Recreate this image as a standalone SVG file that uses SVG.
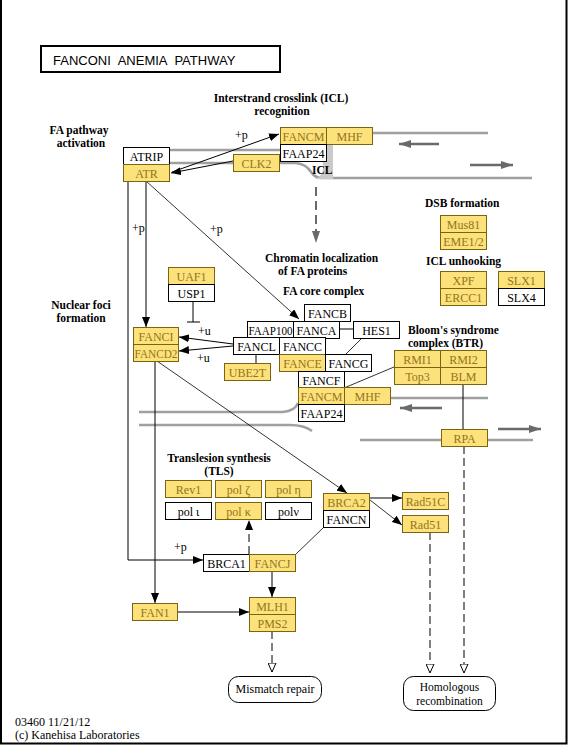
<svg xmlns="http://www.w3.org/2000/svg" width="568" height="745" viewBox="0 0 568 745">
<defs>
<style>
.w{fill:#fff;stroke:#000;stroke-width:1}
.y{fill:#fde17a;stroke:#7a6410;stroke-width:1}
.t{font-family:"Liberation Serif",serif;font-size:12px;text-anchor:middle;fill:#000}
.ty{font-family:"Liberation Serif",serif;font-size:12px;text-anchor:middle;fill:#917520}
.lb{font-family:"Liberation Serif",serif;font-size:11.5px;font-weight:bold;fill:#000}
.c{font-family:"Liberation Serif",serif;font-size:12px;fill:#000}
.ln{fill:none;stroke:#000;stroke-width:1}
.thin{fill:none;stroke:#000;stroke-width:0.8}
.dash{fill:none;stroke:#000;stroke-width:1;stroke-dasharray:8,4}
.strand{fill:none;stroke:#a0a0a0;stroke-width:2.5}
.garr{fill:none;stroke:#6a6a6a;stroke-width:2.5}
.rr{fill:#fff;stroke:#000;stroke-width:1}
</style>
<marker id="ah" viewBox="0 0 10 8" refX="10" refY="4" markerWidth="10" markerHeight="8" markerUnits="userSpaceOnUse" orient="auto"><path d="M0,0 L10,4 L0,8 Z" fill="#000"/></marker>
<marker id="gh" viewBox="0 0 12 8" refX="12" refY="4" markerWidth="12" markerHeight="8" markerUnits="userSpaceOnUse" orient="auto"><path d="M0,0 L12,4 L0,8 Z" fill="#6a6a6a"/></marker>
<marker id="oh" viewBox="0 0 10 9" refX="9.5" refY="4.5" markerWidth="10" markerHeight="9" markerUnits="userSpaceOnUse" orient="auto"><path d="M0.5,0.5 L9.5,4.5 L0.5,8.5 Z" fill="#fff" stroke="#000" stroke-width="1"/></marker>
</defs>
<rect x="0" y="0" width="568" height="745" fill="#fff"/>
<path d="M1,0 V743.5 H566.5 V0" fill="none" stroke="#000" stroke-width="2"/>

<g id="title">
<rect x="41" y="46" width="239" height="26" fill="#fff" stroke="#000" stroke-width="2"/>
<text x="53" y="65" style="font-family:'Liberation Sans',sans-serif;font-size:13px;word-spacing:4px">FANCONI ANEMIA PATHWAY</text>
</g>

<g id="dna">
<path class="strand" d="M170,150 H281"/>
<path class="strand" d="M372,133 H488"/>
<path class="strand" d="M170,163 H296 Q306,164 311,172 Q315,178 322,178 H532"/>
<path d="M323,144 H333 V179 H315 Q323,176 323,168 Z" fill="#cacaca"/>
<path class="strand" d="M139,412 H283 Q295,411 298,403"/>
<path class="strand" d="M139,425 H290 Q304,425 312,431"/>
<path class="strand" d="M390,398 H488"/>
<path class="strand" d="M360,440 H533"/>
<path class="garr" d="M439,144 H399" marker-end="url(#gh)"/>
<path class="garr" d="M470,165 H513" marker-end="url(#gh)"/>
<path class="garr" d="M442,408 H400" marker-end="url(#gh)"/>
<path class="garr" d="M498,429 H541" marker-end="url(#gh)"/>
<path d="M316,187 V243" fill="none" stroke="#6a6a6a" stroke-width="2" stroke-dasharray="9,5" marker-end="url(#gh)"/>
</g>

<g id="labels">
<text class="lb" x="281" y="102" text-anchor="middle">Interstrand crosslink (ICL)</text>
<text class="lb" x="282" y="115" text-anchor="middle">recognition</text>
<text class="lb" x="79" y="134" text-anchor="middle">FA pathway</text>
<text class="lb" x="81" y="147" text-anchor="middle">activation</text>
<text class="lb" x="312" y="174">ICL</text>
<text class="lb" x="425" y="207">DSB formation</text>
<text class="lb" x="426" y="265">ICL unhooking</text>
<text class="lb" x="265" y="262">Chromatin localization</text>
<text class="lb" x="278" y="275">of FA proteins</text>
<text class="lb" x="283" y="295">FA core complex</text>
<text class="lb" x="81" y="309" text-anchor="middle">Nuclear foci</text>
<text class="lb" x="81" y="322" text-anchor="middle">formation</text>
<text class="lb" x="408" y="334">Bloom's syndrome</text>
<text class="lb" x="408" y="347">complex (BTR)</text>
<text class="lb" x="219" y="462" text-anchor="middle">Translesion synthesis</text>
<text class="lb" x="219" y="475" text-anchor="middle">(TLS)</text>
<text class="c" x="235" y="139">+p</text>
<text class="c" x="132" y="232">+p</text>
<text class="c" x="210" y="233">+p</text>
<text class="c" x="198" y="335">+u</text>
<text class="c" x="197" y="362">+u</text>
<text class="c" x="174" y="551">+p</text>
<text class="c" x="15" y="726">03460 11/21/12</text>
<text class="c" x="15" y="739">(c) Kanehisa Laboratories</text>
</g>

<g id="connectors">
<path class="ln" d="M172,172 L279,134" marker-end="url(#ah)"/>
<path class="ln" d="M233,161 L171,173" marker-end="url(#ah)"/>
<path class="ln" d="M128,181 V560 H203" marker-end="url(#ah)"/>
<path class="ln" d="M146,181 V327" marker-end="url(#ah)"/>
<path class="thin" d="M146,181 L299,319" marker-end="url(#ah)"/>
<path class="ln" d="M193,301 V322 M187,322 H200"/>
<path class="ln" d="M233,344 L179,337" marker-end="url(#ah)"/>
<path class="ln" d="M233,346 L179,351" marker-end="url(#ah)"/>
<path class="ln" d="M256,354 V363"/>
<path class="ln" d="M339,329 H353"/>
<path class="thin" d="M362,338 L346,354"/>
<path class="thin" d="M394,367 L344,388"/>
<path class="ln" d="M463,384 V429"/>
<path class="thin" d="M157,361 L347,493" marker-end="url(#ah)"/>
<path class="ln" d="M155,361 V603" marker-end="url(#ah)"/>
<path class="ln" d="M369,498 H402" marker-end="url(#ah)"/>
<path class="thin" d="M370,500 L402,525" marker-end="url(#ah)"/>
<path class="dash" d="M249,554 V520" marker-end="url(#ah)"/>
<path class="thin" d="M296,554 L323,528"/>
<path class="ln" d="M272,571 V597" marker-end="url(#ah)"/>
<path class="ln" d="M178,612 H249" marker-end="url(#ah)"/>
<path class="dash" d="M272,631 V672" marker-end="url(#oh)"/>
<path class="dash" d="M430,532 V673" marker-end="url(#oh)"/>
<path class="dash" d="M464,446 V673" marker-end="url(#oh)"/>
</g>

<g id="ATRIP"><rect class="w" x="123.5" y="147.5" width="46" height="17"/><text class="t" x="146.5" y="160.5">ATRIP</text></g>
<g id="ATR"><rect class="y" x="123.5" y="164.5" width="46" height="17"/><text class="ty" x="146.5" y="177.5">ATR</text></g>
<g id="FANCM-top"><rect class="y" x="280.5" y="127.5" width="46" height="17"/><text class="ty" x="303.5" y="140.5">FANCM</text></g>
<g id="MHF-top"><rect class="y" x="326.5" y="127.5" width="46" height="17"/><text class="ty" x="349.5" y="140.5">MHF</text></g>
<g id="FAAP24-top"><rect class="w" x="280.5" y="144.5" width="46" height="17"/><text class="t" x="303.5" y="157.5">FAAP24</text></g>
<g id="CLK2"><rect class="y" x="233.5" y="154.5" width="46" height="17"/><text class="ty" x="256.5" y="167.5">CLK2</text></g>
<g id="Mus81"><rect class="y" x="440.5" y="215.5" width="46" height="17"/><text class="ty" x="463.5" y="228.5">Mus81</text></g>
<g id="EME1-2"><rect class="y" x="440.5" y="232.5" width="46" height="17"/><text class="ty" x="463.5" y="245.5">EME1/2</text></g>
<g id="XPF"><rect class="y" x="440.5" y="271.5" width="46" height="17"/><text class="ty" x="463.5" y="284.5">XPF</text></g>
<g id="ERCC1"><rect class="y" x="440.5" y="288.5" width="46" height="17"/><text class="ty" x="463.5" y="301.5">ERCC1</text></g>
<g id="SLX1"><rect class="y" x="498.5" y="271.5" width="46" height="17"/><text class="ty" x="521.5" y="284.5">SLX1</text></g>
<g id="SLX4"><rect class="w" x="498.5" y="288.5" width="46" height="17"/><text class="t" x="521.5" y="301.5">SLX4</text></g>
<g id="UAF1"><rect class="y" x="168.5" y="267.5" width="46" height="17"/><text class="ty" x="191.5" y="280.5">UAF1</text></g>
<g id="USP1"><rect class="w" x="168.5" y="284.5" width="46" height="17"/><text class="t" x="191.5" y="297.5">USP1</text></g>
<g id="FANCB"><rect class="w" x="304.5" y="304.5" width="46" height="17"/><text class="t" x="327.5" y="317.5">FANCB</text></g>
<g id="FAAP100"><rect class="w" x="247.5" y="321.5" width="46" height="17"/><text class="t" x="270.5" y="334.5" textLength="44" lengthAdjust="spacingAndGlyphs">FAAP100</text></g>
<g id="FANCA"><rect class="w" x="293.5" y="321.5" width="46" height="17"/><text class="t" x="316.5" y="334.5">FANCA</text></g>
<g id="HES1"><rect class="w" x="353.5" y="321.5" width="46" height="17"/><text class="t" x="376.5" y="334.5">HES1</text></g>
<g id="FANCL"><rect class="w" x="233.5" y="337.5" width="46" height="17"/><text class="t" x="256.5" y="350.5">FANCL</text></g>
<g id="FANCC"><rect class="w" x="279.5" y="337.5" width="46" height="17"/><text class="t" x="302.5" y="350.5">FANCC</text></g>
<g id="FANCE"><rect class="y" x="279.5" y="354.5" width="46" height="17"/><text class="ty" x="302.5" y="367.5">FANCE</text></g>
<g id="FANCG"><rect class="w" x="325.5" y="354.5" width="46" height="17"/><text class="t" x="348.5" y="367.5">FANCG</text></g>
<g id="FANCF"><rect class="w" x="298.5" y="371.5" width="46" height="17"/><text class="t" x="321.5" y="384.5">FANCF</text></g>
<g id="FANCM"><rect class="y" x="298.5" y="387.5" width="46" height="17"/><text class="ty" x="321.5" y="400.5">FANCM</text></g>
<g id="MHF"><rect class="y" x="344.5" y="387.5" width="46" height="17"/><text class="ty" x="367.5" y="400.5">MHF</text></g>
<g id="FAAP24"><rect class="w" x="298.5" y="404.5" width="46" height="17"/><text class="t" x="321.5" y="417.5">FAAP24</text></g>
<g id="UBE2T"><rect class="y" x="224.5" y="363.5" width="46" height="17"/><text class="ty" x="247.5" y="376.5">UBE2T</text></g>
<g id="FANCI"><rect class="y" x="133.5" y="327.5" width="45" height="17"/><text class="ty" x="156" y="340.5">FANCI</text></g>
<g id="FANCD2"><rect class="y" x="133.5" y="344.5" width="45" height="17"/><text class="ty" x="156" y="357.5" textLength="43" lengthAdjust="spacingAndGlyphs">FANCD2</text></g>
<g id="RMI1"><rect class="y" x="394.5" y="350.5" width="46" height="17"/><text class="ty" x="417.5" y="363.5">RMI1</text></g>
<g id="RMI2"><rect class="y" x="440.5" y="350.5" width="46" height="17"/><text class="ty" x="463.5" y="363.5">RMI2</text></g>
<g id="Top3"><rect class="y" x="394.5" y="367.5" width="46" height="17"/><text class="ty" x="417.5" y="380.5">Top3</text></g>
<g id="BLM"><rect class="y" x="440.5" y="367.5" width="46" height="17"/><text class="ty" x="463.5" y="380.5">BLM</text></g>
<g id="RPA"><rect class="y" x="441.5" y="429.5" width="46" height="17"/><text class="ty" x="464.5" y="442.5">RPA</text></g>
<g id="Rev1"><rect class="y" x="165.5" y="480.5" width="46" height="17"/><text class="ty" x="188.5" y="493.5">Rev1</text></g>
<g id="pol-zeta"><rect class="y" x="215.5" y="480.5" width="46" height="17"/><text class="ty" x="238.5" y="493.5">pol ζ</text></g>
<g id="pol-eta"><rect class="y" x="265.5" y="480.5" width="46" height="17"/><text class="ty" x="288.5" y="493.5">pol η</text></g>
<g id="pol-iota"><rect class="w" x="165.5" y="502.5" width="46" height="17"/><text class="t" x="188.5" y="515.5">pol ι</text></g>
<g id="pol-kappa"><rect class="y" x="215.5" y="502.5" width="46" height="17"/><text class="ty" x="238.5" y="515.5">pol κ</text></g>
<g id="pol-nu"><rect class="w" x="265.5" y="502.5" width="46" height="17"/><text class="t" x="288.5" y="515.5">polν</text></g>
<g id="BRCA2"><rect class="y" x="323.5" y="493.5" width="46" height="17"/><text class="ty" x="346.5" y="506.5">BRCA2</text></g>
<g id="FANCN"><rect class="w" x="323.5" y="510.5" width="46" height="17"/><text class="t" x="346.5" y="523.5">FANCN</text></g>
<g id="Rad51C"><rect class="y" x="402.5" y="492.5" width="46" height="17"/><text class="ty" x="425.5" y="505.5">Rad51C</text></g>
<g id="Rad51"><rect class="y" x="402.5" y="515.5" width="46" height="17"/><text class="ty" x="425.5" y="528.5">Rad51</text></g>
<g id="BRCA1"><rect class="w" x="203.5" y="554.5" width="46" height="17"/><text class="t" x="226.5" y="567.5">BRCA1</text></g>
<g id="FANCJ"><rect class="y" x="249.5" y="554.5" width="46" height="17"/><text class="ty" x="272.5" y="567.5">FANCJ</text></g>
<g id="FAN1"><rect class="y" x="132.5" y="603.5" width="45" height="17"/><text class="ty" x="155" y="616.5">FAN1</text></g>
<g id="MLH1"><rect class="y" x="249.5" y="597.5" width="46" height="17"/><text class="ty" x="272.5" y="610.5">MLH1</text></g>
<g id="PMS2"><rect class="y" x="249.5" y="614.5" width="46" height="17"/><text class="ty" x="272.5" y="627.5">PMS2</text></g>
<g id="Mismatch-repair"><rect class="rr" x="228.5" y="676.5" width="93" height="26" rx="10"/><text class="t" x="275" y="693">Mismatch repair</text></g>
<g id="Homologous-recombination"><rect class="rr" x="403.5" y="676.5" width="92" height="34" rx="10"/><text class="t" x="449.5" y="691" style="font-size:11.5px">Homologous</text><text class="t" x="449.5" y="704.5" style="font-size:11.5px">recombination</text></g>
</svg>
